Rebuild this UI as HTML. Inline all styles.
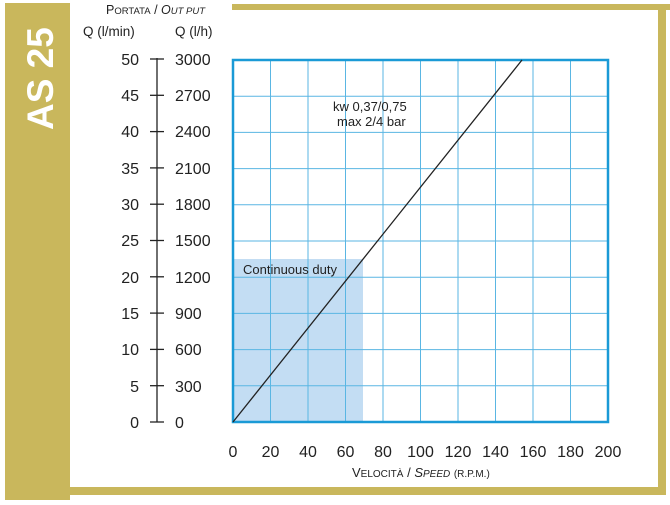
<!DOCTYPE html>
<html><head><style>
body{margin:0;background:#fff;}
svg text{font-family:"Liberation Sans",sans-serif;fill:#222;}
</style></head><body>
<svg width="670" height="500" viewBox="0 0 670 500" xmlns="http://www.w3.org/2000/svg">
<rect x="5" y="3" width="65" height="497" fill="#c9b75c"/>
<text transform="translate(53,130) rotate(-90)" font-size="37" font-weight="bold" style="fill:#fff">AS 25</text>
<rect x="232" y="4" width="438" height="6" fill="#c9b75c"/>
<rect x="658" y="4" width="8" height="491" fill="#c9b75c"/>
<rect x="70" y="487" width="596" height="8" fill="#c9b75c"/>
<rect x="233" y="259" width="130" height="163" fill="#c3ddf3"/>
<g stroke="#5ab6e3" stroke-width="1">
<line x1="270.5" y1="60" x2="270.5" y2="422"/><line x1="308" y1="60" x2="308" y2="422"/><line x1="345.5" y1="60" x2="345.5" y2="422"/><line x1="383" y1="60" x2="383" y2="422"/><line x1="420.5" y1="60" x2="420.5" y2="422"/><line x1="458" y1="60" x2="458" y2="422"/><line x1="495.5" y1="60" x2="495.5" y2="422"/><line x1="533" y1="60" x2="533" y2="422"/><line x1="570.5" y1="60" x2="570.5" y2="422"/>
<line x1="233" y1="96.2" x2="608" y2="96.2"/><line x1="233" y1="132.4" x2="608" y2="132.4"/><line x1="233" y1="168.6" x2="608" y2="168.6"/><line x1="233" y1="204.8" x2="608" y2="204.8"/><line x1="233" y1="241" x2="608" y2="241"/><line x1="233" y1="277.2" x2="608" y2="277.2"/><line x1="233" y1="313.4" x2="608" y2="313.4"/><line x1="233" y1="349.6" x2="608" y2="349.6"/><line x1="233" y1="385.8" x2="608" y2="385.8"/>
</g>
<rect x="233" y="60" width="375" height="362" fill="none" stroke="#1a9ad6" stroke-width="2.5"/>
<line x1="233" y1="422" x2="522" y2="60" stroke="#222" stroke-width="1.3"/>
<text x="243" y="274" font-size="13">Continuous duty</text>
<text x="333" y="111" font-size="13">kw 0,37/0,75</text>
<text x="337" y="126" font-size="13">max 2/4 bar</text>
<line x1="157" y1="58" x2="157" y2="422" stroke="#222" stroke-width="1.3"/>
<g stroke="#222" stroke-width="1.3">
<line x1="150" y1="59" x2="164" y2="59"/><line x1="150" y1="95.3" x2="164" y2="95.3"/><line x1="150" y1="131.6" x2="164" y2="131.6"/><line x1="150" y1="167.9" x2="164" y2="167.9"/><line x1="150" y1="204.2" x2="164" y2="204.2"/><line x1="150" y1="240.5" x2="164" y2="240.5"/><line x1="150" y1="276.8" x2="164" y2="276.8"/><line x1="150" y1="313.1" x2="164" y2="313.1"/><line x1="150" y1="349.4" x2="164" y2="349.4"/><line x1="150" y1="385.7" x2="164" y2="385.7"/><line x1="150" y1="422" x2="164" y2="422"/>
</g>
<g font-size="16" text-anchor="end">
<text x="139" y="65">50</text><text x="139" y="101">45</text><text x="139" y="137">40</text><text x="139" y="174">35</text><text x="139" y="210">30</text><text x="139" y="246">25</text><text x="139" y="283">20</text><text x="139" y="319">15</text><text x="139" y="355">10</text><text x="139" y="392">5</text><text x="139" y="428">0</text>
</g>
<g font-size="16">
<text x="175" y="65">3000</text><text x="175" y="101">2700</text><text x="175" y="137">2400</text><text x="175" y="174">2100</text><text x="175" y="210">1800</text><text x="175" y="246">1500</text><text x="175" y="283">1200</text><text x="175" y="319">900</text><text x="175" y="355">600</text><text x="175" y="392">300</text><text x="175" y="428">0</text>
</g>
<text x="83" y="36" font-size="13.5">Q (l/min)</text>
<text x="175" y="36" font-size="13.5">Q (l/h)</text>
<text x="106" y="14" font-size="12.5">P<tspan font-size="9.5">ORTATA</tspan> / <tspan font-style="italic">O<tspan font-size="9.5">UT PUT</tspan></tspan></text>
<g font-size="16" text-anchor="middle">
<text x="233" y="457">0</text><text x="270.5" y="457">20</text><text x="308" y="457">40</text><text x="345.5" y="457">60</text><text x="383" y="457">80</text><text x="420.5" y="457">100</text><text x="458" y="457">120</text><text x="495.5" y="457">140</text><text x="533" y="457">160</text><text x="570.5" y="457">180</text><text x="608" y="457">200</text>
</g>
<text x="352" y="477" font-size="13">V<tspan font-size="10">ELOCITÀ</tspan> / <tspan font-style="italic">S<tspan font-size="10">PEED</tspan></tspan> <tspan font-size="10">(R.P.M.)</tspan></text>
</svg>
</body></html>
